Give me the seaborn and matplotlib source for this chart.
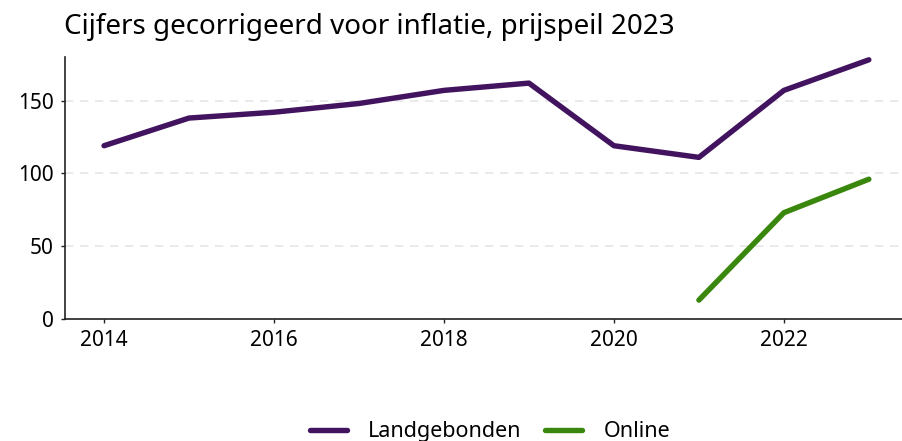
import pandas as pd
import seaborn as sns
import matplotlib.pyplot as plt

# Data
years = [2014, 2015, 2016, 2017, 2018, 2019, 2020, 2021, 2022, 2023]
landgebonden = [119, 138, 142, 148, 157, 162, 119, 111, 157, 178]
online_years = [2021, 2022, 2023]
online = [13, 73, 96]

df = pd.concat([
    pd.DataFrame({'jaar': years, 'waarde': landgebonden, 'soort': 'Landgebonden'}),
    pd.DataFrame({'jaar': online_years, 'waarde': online, 'soort': 'Online'}),
])

sns.set_theme(style="white")
plt.rcParams['font.family'] = ['Noto Sans', 'DejaVu Sans']

fig, ax = plt.subplots(figsize=(9.02, 4.41), dpi=100)
fig.subplots_adjust(left=0.072, right=1.0, top=0.871, bottom=0.2766)

palette = {'Landgebonden': '#42145f', 'Online': '#39870c'}
sns.lineplot(data=df, x='jaar', y='waarde', hue='soort', palette=palette,
             linewidth=3.9, ax=ax)

ax.set_xlim(2013.54, 2023.39)
ax.set_ylim(0, 180)
ax.set_xticks([2014, 2016, 2018, 2020, 2022])
ax.set_yticks([0, 50, 100, 150])
ax.set_xlabel('')
ax.set_ylabel('')
ax.tick_params(axis='both', labelsize=15, length=3, width=1, colors='#222222',
               bottom=True, left=True, pad=5)
for lbl in ax.get_xticklabels() + ax.get_yticklabels():
    lbl.set_color('black')

ax.yaxis.grid(True, linestyle=(0, (5, 4)), color='#e6e6e6', linewidth=1.2)
ax.set_axisbelow(True)
sns.despine(ax=ax)
for s in ['left', 'bottom']:
    ax.spines[s].set_color('#222222')
    ax.spines[s].set_linewidth(1.2)

fig.text(0.071, 0.938, 'Cijfers gecorrigeerd voor inflatie, prijspeil 2023',
         fontsize=20, ha='left', va='center', color='black')

leg = ax.legend(loc='center', bbox_to_anchor=(0.508, -0.43), ncol=2, frameon=False,
                fontsize=15.5, handlelength=1.7, columnspacing=1.1, handletextpad=1.0)
for t in leg.get_texts():
    t.set_color('black')

fig.savefig('out.png', dpi=100)
